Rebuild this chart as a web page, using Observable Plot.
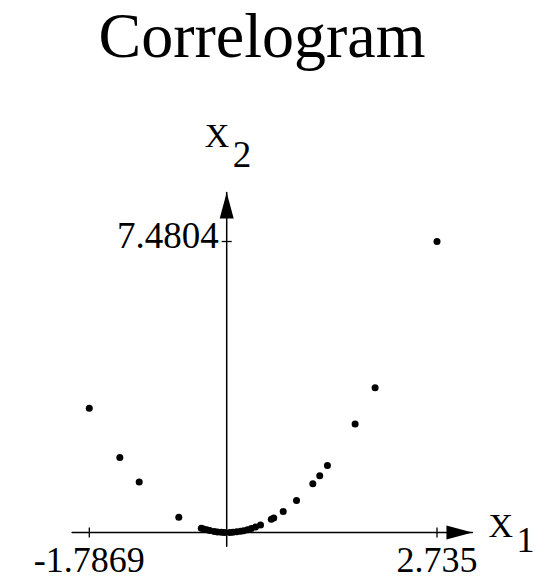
<!DOCTYPE html>
<html>
<head>
<meta charset="utf-8">
<script src="https://cdn.jsdelivr.net/npm/d3@7"></script>
<script src="https://cdn.jsdelivr.net/npm/@observablehq/plot@0.6"></script>
<style>
  html, body { margin: 0; padding: 0; background: #fff; }
  #title {
    width: 524px; height: 80px; text-align: center;
    font: 64px/72px "Liberation Serif", "Times New Roman", serif; color: #000;
  }
</style>
</head>
<body>
<div id="title">Correlogram</div>
<script>
// Sample pairs (x1, x2)
const x1 = [-1.7869, -1.39, -1.138, -0.623, -0.33, -0.3, -0.26, -0.22, -0.16, -0.12, -0.07, -0.03,
            0.04, 0.08, 0.13, 0.18, 0.22, 0.27, 0.32, 0.375, 0.44, 0.58, 0.612, 0.735, 0.908,
            1.12, 1.21, 1.31, 1.67, 1.93, 2.735];
const x2 = [3.193, 1.93, 1.30, 0.39, 0.11, 0.09, 0.07, 0.05, 0.026, 0.015, 0.005, 0.001,
            0.002, 0.006, 0.017, 0.032, 0.048, 0.073, 0.10, 0.14, 0.19, 0.34, 0.37, 0.54, 0.82,
            1.25, 1.46, 1.72, 2.79, 3.72, 7.4804];

// Tick values shown on each axis
const xTicks = [-1.7869, 2.735];
const yTicks = [7.4804];

// Axis extents in data units (from the tail to the arrow tip)
const xAxisExtent = [-2.01, 3.196];
const yAxisExtent = [-0.352, 8.74];

const points = x1.map((v, i) => ({x1: v, x2: x2[i]}));

// Filled, elongated arrowhead with its tip at the origin, pointing up
const arrowHead = {
  draw(ctx) {
    ctx.moveTo(0, 0);
    ctx.lineTo(-7, 26);
    ctx.lineTo(7, 26);
    ctx.closePath();
  }
};
// Short tick mark (vertical segment centred on the origin)
const tickMark = {
  draw(ctx) {
    ctx.moveTo(0, -5);
    ctx.lineTo(0, 5);
  }
};

const serif = "Liberation Serif, Times New Roman, serif";

const chart = Plot.plot({
  width: 548,
  height: 502,
  x: {domain: [xTicks[0], xTicks[1]], range: [88.8, 436.5], axis: null},
  y: {domain: [0, yTicks[0]], range: [452, 161], axis: null},
  style: {background: "#fff", overflow: "visible"},
  marks: [
    // axes
    Plot.line(xAxisExtent.map(v => ({x: v, y: 0})), {x: "x", y: "y", stroke: "#000", strokeWidth: 1.5}),
    Plot.line(yAxisExtent.map(v => ({x: 0, y: v})), {x: "x", y: "y", stroke: "#000", strokeWidth: 1.5}),
    Plot.dot([xAxisExtent[1]], {x: d => d, y: 0, symbol: arrowHead, fill: "#000", stroke: null, rotate: 90, r: 10}),
    Plot.dot([yAxisExtent[1]], {x: 0, y: d => d, symbol: arrowHead, fill: "#000", stroke: null, r: 10}),
    // ticks
    Plot.dot(xTicks, {x: d => d, y: 0, symbol: tickMark, stroke: "#000", strokeWidth: 1.3, fill: null, r: 5}),
    Plot.dot(yTicks, {x: 0, y: d => d, symbol: tickMark, stroke: "#000", strokeWidth: 1.3, fill: null, rotate: 90, r: 5}),
    // tick labels
    Plot.text(xTicks, {x: d => d, y: 0, text: d => String(d), dy: 28,
      fontFamily: serif, fontSize: 36, fill: "#000", textAnchor: "middle", lineAnchor: "middle"}),
    Plot.text(yTicks, {x: 0, y: d => d, text: d => String(d), dx: -8, dy: -5,
      fontFamily: serif, fontSize: 37, fill: "#000", textAnchor: "end", lineAnchor: "middle"}),
    // axis names with subscripts
    Plot.text([xAxisExtent[1]], {x: d => d, y: 0, text: () => "X", dx: 16, dy: -6,
      fontFamily: serif, fontSize: 34, fill: "#000", textAnchor: "start", lineAnchor: "middle"}),
    Plot.text([xAxisExtent[1]], {x: d => d, y: 0, text: () => "1", dx: 44, dy: 8,
      fontFamily: serif, fontSize: 36, fill: "#000", textAnchor: "start", lineAnchor: "middle"}),
    Plot.text([yAxisExtent[1]], {x: 0, y: d => d, text: () => "X", dx: -22, dy: -56,
      fontFamily: serif, fontSize: 34, fill: "#000", textAnchor: "start", lineAnchor: "middle"}),
    Plot.text([yAxisExtent[1]], {x: 0, y: d => d, text: () => "2", dx: 6, dy: -37,
      fontFamily: serif, fontSize: 37, fill: "#000", textAnchor: "start", lineAnchor: "middle"}),
    // data points
    Plot.dot(points, {x: "x1", y: "x2", r: 3.5, fill: "#000", stroke: null})
  ]
});
document.body.appendChild(chart);
</script>
</body>
</html>
